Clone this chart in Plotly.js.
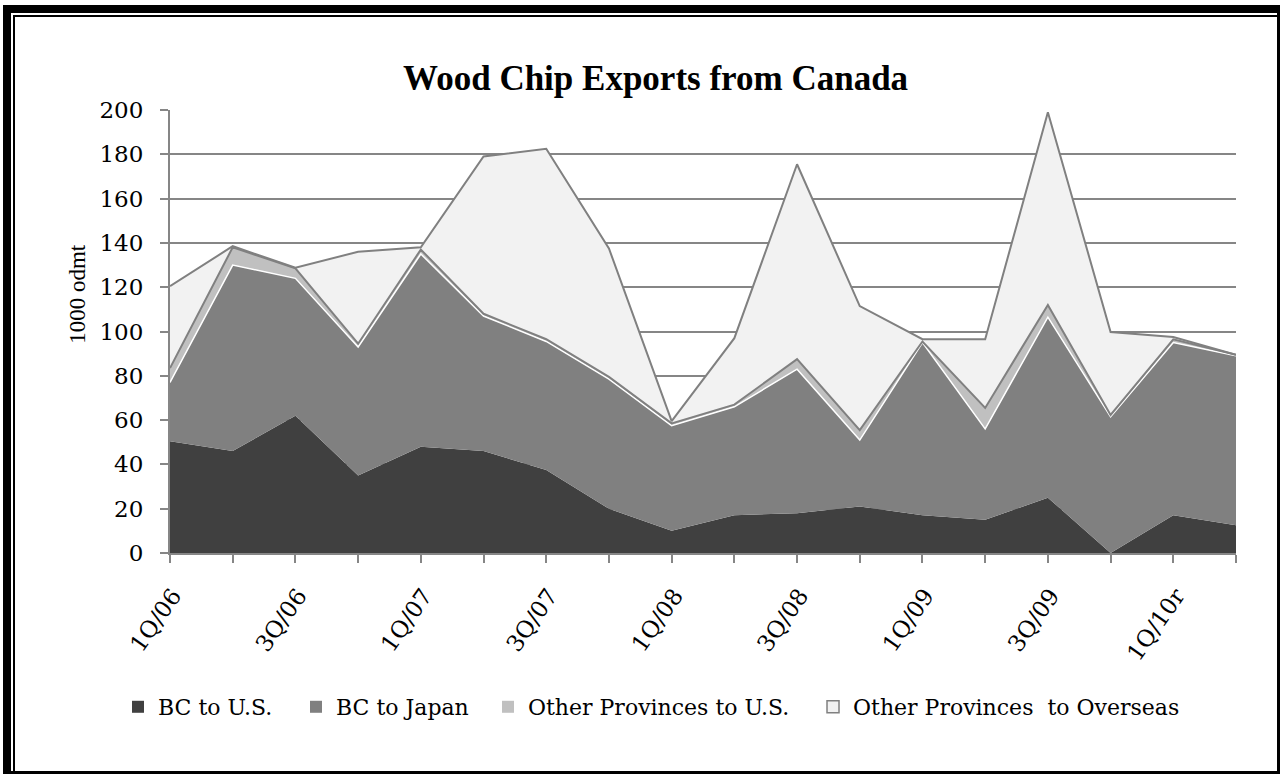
<!DOCTYPE html>
<html>
<head>
<meta charset="utf-8">
<script src="https://cdn.plot.ly/plotly-3.0.1.min.js"></script>
<style>
html,body{margin:0;padding:0;background:#fff;}
#chart{position:absolute;left:0;top:0;width:1283px;height:777px;}
#frameOuter{position:absolute;left:3px;top:5px;width:1277px;height:769px;box-sizing:border-box;
  border-left:8px solid #000;border-top:8px solid #000;border-right:3px solid #000;border-bottom:3px solid #000;pointer-events:none;}
#frameInner{position:absolute;left:13px;top:15px;width:1265px;height:757px;box-sizing:border-box;
  border-left:2px solid #000;border-top:2px solid #000;pointer-events:none;}
</style>
</head>
<body>
<div id="chart"></div>
<div id="frameOuter"></div>
<div id="frameInner"></div>
<script>
const quarters = ["1Q/06","2Q/06","3Q/06","4Q/06","1Q/07","2Q/07","3Q/07","4Q/07","1Q/08","2Q/08","3Q/08","4Q/08","1Q/09","2Q/09","3Q/09","4Q/09","1Q/10r","2Q/10"];
const tickLabels = ["1Q/06","","3Q/06","","1Q/07","","3Q/07","","1Q/08","","3Q/08","","1Q/09","","3Q/09","","1Q/10r",""];
const bcToUS = [50.5, 46, 62, 35, 48, 46, 37.5, 20, 10, 17, 18, 21, 17, 15, 25, 0, 17, 12.5];
const bcToJapan = [26.5, 84, 62, 58, 87, 61, 58, 58.5, 47.5, 49, 65, 30, 78, 41, 81.5, 61.5, 78, 76.5];
const otherToUS = [6.5, 8, 4.5, 1.5, 2, 1, 1, 1, 1, 1, 4.5, 4.5, 0.5, 9.5, 5.5, 0.8, 1.5, 0.5];
const otherToOverseas = [37, 0.5, 0.3, 41.5, 1, 71, 86, 58, 1, 30, 88, 56, 1, 31, 87, 37.5, 1, 0];
const seriesNames = ["BC to U.S.", "BC to Japan", "Other Provinces to U.S.", "Other Provinces  to Overseas"];
const yTicks = [0,20,40,60,80,100,120,140,160,180,200];

const serif = "DejaVu Serif, Liberation Serif, serif";
const times = "Liberation Serif, Times New Roman, serif";
const fills = ["#404040", "#808080", "#C0C0C0", "#F2F2F2"];
const lineCols = ["#404040", "#ffffff", "#808080", "#808080"];
const lineWs = [0, 1.5, 2, 2];
const values = [bcToUS, bcToJapan, otherToUS, otherToOverseas];

const data = [];
values.forEach((v, i) => {
  data.push({
    type: "scatter", mode: "lines", name: seriesNames[i], x: quarters, y: v,
    stackgroup: "one", fillcolor: fills[i],
    line: {color: lineCols[i], width: lineWs[i], shape: "linear"},
    showlegend: false, hoverinfo: "skip"
  });
});
// legend-only entries with square symbols
const legendIds = ["legend", "legend2", "legend3", "legend4"];
values.forEach((v, i) => {
  data.push({
    type: "scatter", mode: "markers", name: seriesNames[i], x: [null], y: [null],
    marker: {symbol: "square", size: 12, color: fills[i],
      line: {color: i === 3 ? "#808080" : fills[i], width: i === 3 ? 1.5 : 0}},
    legend: legendIds[i], showlegend: true, hoverinfo: "skip"
  });
});

const legFont = {family: serif, size: 22, color: "#000"};
const legY = -0.3476;
const legXs = [-0.0488, 0.1182, 0.2983, 0.6032];
const layout = {
  width: 1283, height: 777,
  margin: {l: 170, r: 47, t: 110, b: 224},
  paper_bgcolor: "#fff", plot_bgcolor: "#fff",
  showlegend: true,
  title: {text: "<b>Wood Chip Exports from Canada</b>", x: 0.511, xanchor: "center", y: 0.9, yanchor: "middle",
    font: {family: times, size: 35, color: "#000"}},
  xaxis: {
    type: "category", range: [0, quarters.length - 1],
    tickmode: "array", tickvals: quarters, ticktext: tickLabels, tickangle: -55,
    ticks: "outside", ticklen: 8, tickwidth: 2, tickcolor: "#868686",
    ticklabelshift: 3, ticklabelstandoff: 10,
    showline: true, linecolor: "#868686", linewidth: 2,
    showgrid: false, zeroline: false,
    tickfont: {family: serif, size: 23, color: "#000"}
  },
  yaxis: {
    range: [0, 200], tickmode: "array", tickvals: yTicks,
    ticks: "outside", ticklen: 8, tickwidth: 2, tickcolor: "#868686",
    ticklabelstandoff: 12,
    showline: true, linecolor: "#868686", linewidth: 2,
    showgrid: true, gridcolor: "#868686", gridwidth: 2, zeroline: false,
    tickfont: {family: serif, size: 23, color: "#000"}
  },
  annotations: [{
    text: "1000 odmt", xref: "paper", yref: "paper", x: -0.0863, y: 0.585,
    xanchor: "center", yanchor: "middle", textangle: -90, showarrow: false,
    font: {family: times, size: 23, color: "#000"}
  }],
  hovermode: false
};
legendIds.forEach((id, i) => {
  layout[id] = {orientation: "h", x: legXs[i], xanchor: "left", y: legY, yanchor: "middle",
    font: legFont, itemwidth: 30, bgcolor: "rgba(0,0,0,0)"};
});
Plotly.newPlot("chart", data, layout, {staticPlot: true, displayModeBar: false});
</script>
</body>
</html>
